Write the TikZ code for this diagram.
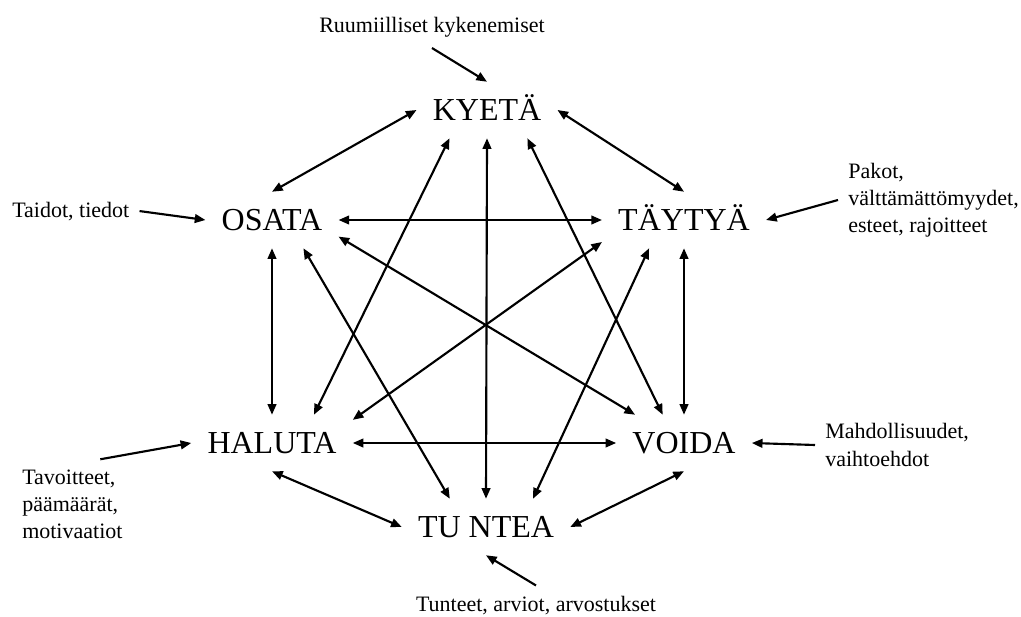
\documentclass[tikz,border=0pt]{standalone}
\usepackage{fontspec}
\setmainfont{Liberation Serif}
\usetikzlibrary{arrows.meta}

\begin{document}
\begin{tikzpicture}[
    x=0.75pt, y=-0.75pt,
    modal/.style={inner xsep=12pt, inner ysep=0pt, minimum height=42pt, text height=16pt, text depth=0pt, font=\fontsize{24}{28}\selectfont},
    factor/.style={inner sep=7.5pt, align=left, font=\fontsize{16.5}{20.3}\selectfont},
    link/.style={{Triangle[length=8pt,width=6.5pt]}-{Triangle[length=8pt,width=6.5pt]}, line width=1.6pt},
    arrow/.style={-{Triangle[length=8pt,width=6.5pt]}, line width=1.6pt}
]
\useasboundingbox (0,0) rectangle (1021,617);

% Modal verbs
\node[modal] (kyeta) at (487,110) {KYETÄ};
\node[modal] (osata) at (272,220) {OSATA};
\node[modal] (taytya) at (684,220) {TÄYTYÄ};
\node[modal] (haluta) at (272,443) {HALUTA};
\node[modal] (voida) at (684,443) {VOIDA};
\node[modal] (tuntea) at (486,527) {TU NTEA};

% Factors
\node[factor, anchor=base] (ruumiil) at (432,33) {Ruumiilliset kykenemiset};
\node[factor, anchor=base west] (taidot) at (2,217) {Taidot, tiedot};
\node[factor, anchor=west] (pakot) at (838,200) {Pakot,\\välttämättömyydet,\\esteet, rajoitteet};
\node[factor, anchor=west] (tavoit) at (12,504) {Tavoitteet,\\päämäärät,\\motivaatiot};
\node[factor, anchor=west] (mahd) at (815,445) {Mahdollisuudet,\\vaihtoehdot};
\node[factor, anchor=base] (tunteet) at (536,611) {Tunteet, arviot, arvostukset};

% Links between verbs
\draw[link] (kyeta.west) -- (osata.north);
\draw[link] (kyeta.east) -- (taytya.north);
\draw[link] (kyeta.217) -- (haluta.34);
\draw[link] (kyeta.south) -- (tuntea.north);
\draw[link] (kyeta.-35) -- (voida.127);
\draw[link] (osata.east) -- (taytya.west);
\draw[link] (osata.south) -- (haluta.north);
\draw[link] (osata.-14) -- (voida.150);
\draw[link] (osata.-42) -- (tuntea.142);
\draw[link] (taytya.195) -- (haluta.16);
\draw[link] (taytya.south) -- (voida.north);
\draw[link] (taytya.219) -- (tuntea.31);
\draw[link] (haluta.east) -- (voida.west);
\draw[link] (haluta.south) -- (tuntea.west);
\draw[link] (voida.south) -- (tuntea.east);

% Factor arrows
\draw[arrow] (ruumiil.south) -- (kyeta.north);
\draw[arrow] (taidot.east) -- (osata.west);
\draw[arrow] (pakot.west) -- (taytya.east);
\draw[arrow] (tavoit.58) -- (haluta.west);
\draw[arrow] (mahd.west) -- (voida.east);
\draw[arrow] (tunteet.north) -- (tuntea.south);

\end{tikzpicture}
\end{document}
